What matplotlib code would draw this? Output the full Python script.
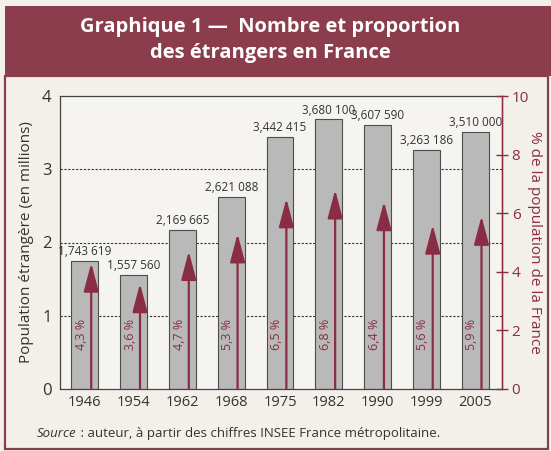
import matplotlib
matplotlib.use("Agg")
import matplotlib.pyplot as plt
from matplotlib.patches import Rectangle, FancyArrowPatch

plt.rcParams['font.family'] = ['Open Sans', 'DejaVu Sans']

years = ["1946", "1954", "1962", "1968", "1975", "1982", "1990", "1999", "2005"]
pop_millions = [1.743619, 1.557560, 2.169665, 2.621088, 3.442415, 3.680100, 3.607590, 3.263186, 3.510000]
pop_labels = ["1,743 619", "1,557 560", "2,169 665", "2,621 088", "3,442 415",
              "3,680 100", "3,607 590", "3,263 186", "3,510 000"]
pct = [4.3, 3.6, 4.7, 5.3, 6.5, 6.8, 6.4, 5.6, 5.9]
pct_labels = ["4,3 %", "3,6 %", "4,7 %", "5,3 %", "6,5 %", "6,8 %", "6,4 %", "5,6 %", "5,9 %"]

maroon = '#8a2c44'
banner = '#8b3d4d'
bg = '#f3f0ea'

fig = plt.figure(figsize=(5.51, 4.51), dpi=100, facecolor=bg)

# title banner + frame
fig.patches.append(Rectangle((5 / 551, 1 - 76 / 451), 546 / 551, 70 / 451,
                             transform=fig.transFigure, facecolor=banner, edgecolor='none'))
fig.patches.append(Rectangle((5 / 551, 2 / 451), 543 / 551, (451 - 78) / 451,
                             transform=fig.transFigure, facecolor='none', edgecolor=banner, lw=1.6))
fig.text(0.49, 1 - 27 / 451, "Graphique 1 —  Nombre et proportion", color='white',
         fontsize=14.5, fontweight='bold', ha='center', va='center')
fig.text(0.49, 1 - 53 / 451, "des étrangers en France", color='white',
         fontsize=14.5, fontweight='bold', ha='center', va='center')

ax = fig.add_axes([60 / 551, 62 / 451, 442 / 551, 293 / 451])
ax.set_facecolor('#f6f4f0')
x = list(range(len(years)))

for v in [1, 2, 3]:
    ax.axhline(v, color='#333333', lw=0.8, ls=(0, (2, 1.5)), zorder=1)

ax.bar(x, pop_millions, width=0.55, color='#b9b9b9', edgecolor='#4d4d4d', lw=0.8, zorder=2)
for xi, v, lab in zip(x, pop_millions, pop_labels):
    ax.text(xi, v + 0.04, lab, ha='center', va='bottom', fontsize=8.5, color='#333333', zorder=3)

ax.set_xlim(-0.51, 8.55)
ax.set_ylim(0, 4)
ax.set_yticks([0, 1, 2, 3, 4])
ax.set_xticks(x)
ax.set_xticklabels(years)
ax.tick_params(axis='both', length=0, colors='#333333')
ax.tick_params(axis='x', labelsize=10.5, pad=4)
ax.tick_params(axis='y', labelsize=12, pad=6)
for s in ax.spines.values():
    s.set_color('#444444')
    s.set_linewidth(0.9)
ax.set_ylabel("Population étrangère (en millions)", fontsize=11, color='#333333', labelpad=6)

ax2 = ax.twinx()
ax2.set_ylim(0, 10)
ax2.set_yticks([0, 2, 4, 6, 8, 10])
ax2.tick_params(axis='y', direction='inout', length=8, width=1, colors=maroon, labelsize=11, pad=3)
ax2.spines['right'].set_color(maroon)
ax2.spines['right'].set_linewidth(1)
for s in ['left', 'top', 'bottom']:
    ax2.spines[s].set_visible(False)
ax2.set_ylabel("% de la population de la France", fontsize=11, color=maroon,
               rotation=270, labelpad=9)

for xi, p, lab in zip(x, pct, pct_labels):
    arr = FancyArrowPatch((xi + 0.13, 0), (xi + 0.13, p),
                          arrowstyle='-|>,head_length=1.25,head_width=0.33',
                          mutation_scale=14, color=maroon, lw=1.6,
                          shrinkA=0, shrinkB=0, zorder=4)
    ax2.add_patch(arr)
    ax2.text(xi - 0.07, 1.85, lab, rotation=90, ha='center', va='center',
             fontsize=9, color=maroon, zorder=4)

# source line: italic "Source" then the rest
src = fig.text(37 / 551, 1 - 437 / 451, "Source", fontsize=9.5, style='italic',
               color='#333333', va='baseline')
renderer = fig.canvas.get_renderer()
bb = src.get_window_extent(renderer)
fig.text(bb.x1 / fig.bbox.width, 1 - 437 / 451,
         " : auteur, à partir des chiffres INSEE France métropolitaine.",
         fontsize=9.5, color='#333333', va='baseline')

fig.savefig("out.png", dpi=100, facecolor=bg)
